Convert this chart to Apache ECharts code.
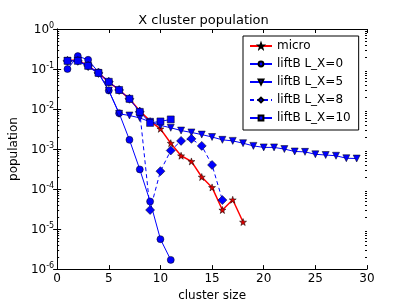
<!DOCTYPE html>
<html>
<head>
<meta charset="utf-8">
<script src="https://cdn.jsdelivr.net/npm/echarts@6/dist/echarts.min.js"></script>
<style>html,body{margin:0;padding:0;background:#fff;}#c{width:407px;height:307px;}</style>
</head>
<body>
<div id="c"></div>
<script>
const titleText = 'X cluster population';
const xName = 'cluster size';
const yName = 'population';
const seriesNames = ['micro', 'liftB L_X=0', 'liftB L_X=5', 'liftB L_X=8', 'liftB L_X=10'];
const xTicks = [0, 5, 10, 15, 20, 25, 30];

const microX = [1,2,3,4,5,6,7,8,9,10,11,12,13,14,15,16,17,18];
const microY = [0.16,0.17,0.12,0.08,0.047,0.03,0.018,0.009,0.005,0.0032,0.0014,0.00068,0.00049,0.0002,0.00011,0.00003,0.000054,0.000015];

const lx0X = [1,2,3,4,5,6,7,8,9,10,11];
const lx0Y = [0.1,0.21,0.17,0.083,0.029,0.0079,0.0017,0.00031,0.000049,0.0000056,0.0000017];

const lx5X = [1,2,3,4,5,6,7,8,9,10,11,12,13,14,15,16,17,18,19,20,21,22,23,24,25,26,27,28,29];
const lx5Y = [0.16,0.16,0.113,0.078,0.029,0.0076,0.0069,0.006,0.0048,0.0039,0.0034,0.0029,0.0026,0.0023,0.002,0.0017,0.0016,0.0014,0.0012,0.0011,0.0011,0.001,0.00087,0.00085,0.00074,0.00071,0.00068,0.00059,0.00058];

const lx8X = [1,2,3,4,5,6,7,8,9,10,11,12,13,14,15,16];
const lx8Y = [0.16,0.16,0.12,0.08,0.048,0.03,0.018,0.0085,0.00003,0.00028,0.00092,0.0016,0.0018,0.0012,0.0004,0.000053];

const lx10X = [1,2,3,4,5,6,7,8,9,10,11];
const lx10Y = [0.16,0.16,0.12,0.08,0.048,0.03,0.018,0.0085,0.0045,0.0049,0.0055];

const minorTickValues = [];
for (let e = -6; e < 0; e++) {
  for (let k = 2; k <= 9; k++) minorTickValues.push(k * Math.pow(10, e));
}

function pairs(xs, ys) { return xs.map((x, i) => [x, ys[i]]); }

const starPath = 'path://M0,-10 L2.35,-3.24 L9.51,-3.09 L3.8,1.24 L5.88,8.09 L0,4 L-5.88,8.09 L-3.8,1.24 L-9.51,-3.09 L-2.35,-3.24 Z';
const FONT = 'DejaVu Sans';
const blue = '#0000ff';
const edge = { borderColor: '#000', borderWidth: 0.5 };

const chart = echarts.init(document.getElementById('c'), null, { renderer: 'canvas' });

const option = {
  animation: false,
  backgroundColor: '#fff',
  textStyle: { fontFamily: FONT },
  title: {
    text: titleText, left: 'center', top: 14, padding: 0,
    textStyle: { fontFamily: FONT, fontSize: 13, fontWeight: 'normal', color: '#000' }
  },
  grid: { left: 51, right: 40, top: 29, bottom: 31, containLabel: false },
  legend: {
    data: seriesNames,
    orient: 'vertical',
    left: 243, top: 36,
    padding: [4, 8, 6, 6],
    itemGap: 6,
    itemWidth: 22, itemHeight: 6,
    borderColor: '#000', borderWidth: 1, borderRadius: 0,
    backgroundColor: '#fff',
    textStyle: { fontFamily: FONT, fontSize: 12, color: '#000' }
  },
  xAxis: [
    {
      type: 'value', min: 0, max: 30, interval: 5,
      name: xName, nameLocation: 'middle', nameGap: 15,
      nameTextStyle: { fontFamily: FONT, fontSize: 12, color: '#000' },
      axisLine: { show: true, lineStyle: { color: '#000', width: 1 } },
      axisTick: { show: true, inside: true, length: 4, lineStyle: { color: '#000' } },
      axisLabel: { fontFamily: FONT, fontSize: 12, color: '#000', margin: 4,
        formatter: v => (xTicks.indexOf(v) >= 0 ? String(v) : '') },
      splitLine: { show: false }
    },
    {
      type: 'value', min: 0, max: 30, interval: 5, position: 'top',
      axisLine: { show: true, lineStyle: { color: '#000', width: 1 } },
      axisTick: { show: true, inside: true, length: 4, lineStyle: { color: '#000' } },
      axisLabel: { show: false },
      splitLine: { show: false }
    }
  ],
  yAxis: [
    {
      type: 'log', logBase: 10, min: 1e-6, max: 1, splitNumber: 6,
      name: yName, nameLocation: 'middle', nameGap: 36,
      nameTextStyle: { fontFamily: FONT, fontSize: 12, color: '#000' },
      axisLine: { show: true, lineStyle: { color: '#000', width: 1 } },
      axisTick: { show: true, inside: true, length: 4, lineStyle: { color: '#000' } },
      axisLabel: {
        margin: 3,
        formatter: v => '{b|10}{s|' + Math.round(Math.log10(v)) + '}',
        rich: {
          b: { fontFamily: FONT, fontSize: 12, color: '#000', lineHeight: 14, verticalAlign: 'bottom' },
          s: { fontFamily: FONT, fontSize: 8, color: '#000', lineHeight: 14, verticalAlign: 'top' }
        }
      },
      splitLine: { show: false }
    },
    {
      type: 'log', logBase: 10, min: 1e-6, max: 1, splitNumber: 6, position: 'right',
      axisLine: { show: true, lineStyle: { color: '#000', width: 1 } },
      axisTick: { show: true, inside: true, length: 4, lineStyle: { color: '#000' } },
      axisLabel: { show: false },
      splitLine: { show: false }
    }
  ],
  series: [
    {
      type: 'custom', silent: true, z: 1,
      xAxisIndex: 0, yAxisIndex: 0,
      data: minorTickValues.map(v => [0, v]),
      renderItem: function (params, api) {
        const pl = api.coord([0, api.value(1)]);
        const pr = api.coord([30, api.value(1)]);
        const y = Math.round(pl[1]) + 0.5;
        const style = { stroke: '#000', lineWidth: 1 };
        return {
          type: 'group',
          children: [
            { type: 'line', shape: { x1: pl[0], y1: y, x2: pl[0] + 2, y2: y }, style: style },
            { type: 'line', shape: { x1: pr[0] - 2, y1: y, x2: pr[0], y2: y }, style: style }
          ]
        };
      }
    },
    {
      name: seriesNames[0], type: 'line', data: pairs(microX, microY),
      symbol: starPath, symbolSize: 7,
      lineStyle: { color: '#ff0000', width: 1.5 },
      itemStyle: Object.assign({ color: '#dd0000' }, edge),
      z: 2
    },
    {
      name: seriesNames[1], type: 'line', data: pairs(lx0X, lx0Y),
      symbol: 'circle', symbolSize: 7,
      lineStyle: { color: blue, width: 1 },
      itemStyle: Object.assign({ color: blue }, edge),
      z: 3
    },
    {
      name: seriesNames[2], type: 'line', data: pairs(lx5X, lx5Y),
      symbol: 'triangle', symbolRotate: 180, symbolSize: 7,
      lineStyle: { color: blue, width: 1 },
      itemStyle: Object.assign({ color: blue }, edge),
      z: 4
    },
    {
      name: seriesNames[3], type: 'line', data: pairs(lx8X, lx8Y),
      symbol: 'diamond', symbolSize: 9,
      lineStyle: { color: blue, width: 1, type: [4, 3] },
      itemStyle: Object.assign({ color: blue }, edge),
      z: 5
    },
    {
      name: seriesNames[4], type: 'line', data: pairs(lx10X, lx10Y),
      symbol: 'rect', symbolSize: 7,
      lineStyle: { color: blue, width: 1 },
      itemStyle: Object.assign({ color: blue }, edge),
      z: 6
    }
  ]
};
chart.setOption(option);
</script>
</body>
</html>
